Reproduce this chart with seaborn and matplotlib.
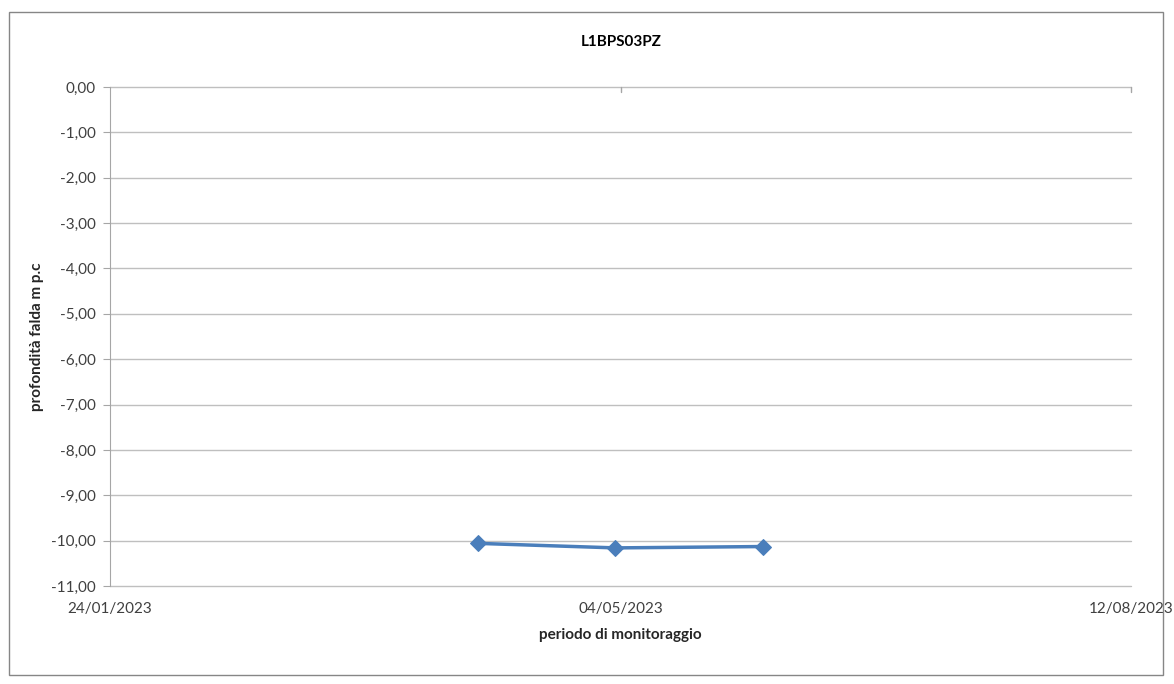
import pandas as pd
import matplotlib.pyplot as plt
import matplotlib.dates as mdates
import seaborn as sns
from matplotlib.patches import Rectangle
from matplotlib.ticker import FuncFormatter

# survey dates and water table depth (m below ground level)
dates = ["2023-04-06", "2023-05-03", "2023-06-01"]
depth = [-10.06, -10.16, -10.13]
x_ticks = ["2023-01-24", "2023-05-04", "2023-08-12"]

df = pd.DataFrame({"data": pd.to_datetime(dates), "profondita": depth})

sns.set_style("white")
plt.rcParams["font.family"] = ["Lato", "DejaVu Sans"]

fig = plt.figure(figsize=(11.74, 6.84), dpi=100)
ax = fig.add_axes([110 / 1174, 1 - 586 / 684, 1021 / 1174, 499 / 684])

sns.lineplot(data=df, x="data", y="profondita", ax=ax, color="#4A7EBB",
             linewidth=2.5, marker="D", markersize=8, markeredgecolor="#4A7EBB")

ticks = pd.to_datetime(x_ticks)
ax.set_xlim(ticks[0], ticks[-1])
ax.set_xticks(ticks)
ax.xaxis.set_major_formatter(mdates.DateFormatter("%d/%m/%Y"))
ax.set_ylim(-11, 0)
ax.set_yticks(range(-11, 1))
ax.yaxis.set_major_formatter(FuncFormatter(lambda v, p: f"{v:.2f}".replace(".", ",")))

ax.grid(axis="y", color="#BFBFBF", linewidth=1)
ax.grid(axis="x", visible=False)
for gl in ax.get_ygridlines():
    gl.set_clip_on(False)
for side in ["right", "bottom", "top"]:
    ax.spines[side].set_visible(False)
ax.spines["left"].set_color("#A6A6A6")
ax.tick_params(axis="y", left=True, length=5, color="#A6A6A6", labelsize=11, labelcolor="#404040", pad=5)
ax.tick_params(axis="x", bottom=False, labelsize=11, labelcolor="#404040", pad=8)
# small tick marks along the axis line at 0
for t in ticks[1:]:
    ax.plot([t, t], [0, -0.1], color="#A6A6A6", linewidth=1, clip_on=False)

ax.set_xlabel("periodo di monitoraggio", fontsize=11, fontweight="bold", labelpad=9)
ax.set_ylabel("profondità falda m p.c", fontsize=11, fontweight="bold", labelpad=5)
fig.text(621 / 1174, 1 - 42 / 684, "L1BPS03PZ", ha="center", va="center",
         fontsize=11, fontweight="bold", color="#000000")

fig.patches.append(Rectangle((9 / 1174, 1 - 675 / 684), 1154 / 1174, 663 / 684,
                             transform=fig.transFigure, fill=False,
                             edgecolor="#868686", linewidth=1))

fig.savefig("out.png", dpi=100)
